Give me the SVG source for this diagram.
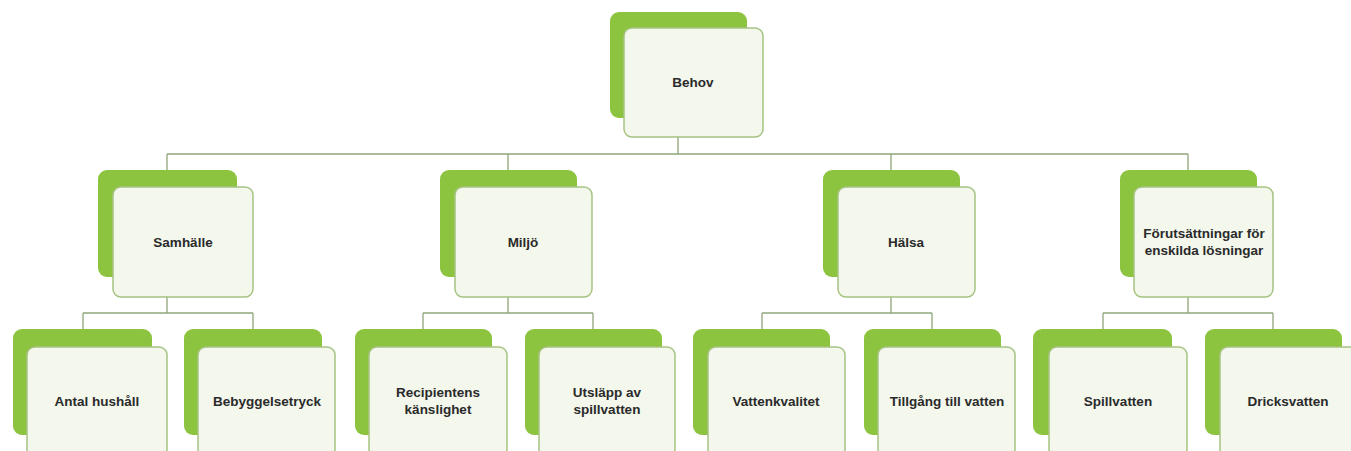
<svg xmlns="http://www.w3.org/2000/svg" width="1351" height="451" viewBox="0 0 1351 451">
<style>
.bk{fill:#8cc43f;}
.fr{fill:#f3f7ec;stroke:#a6c383;stroke-width:1.5;}
.t{font-family:"Liberation Sans",Arial,sans-serif;font-size:13.5px;font-weight:bold;fill:#2a2a2a;text-anchor:middle;dominant-baseline:central;}
.c{fill:none;stroke:#8fa67a;stroke-width:1.3;}
</style>
<rect width="1351" height="451" fill="#ffffff"/>
<g id="connectors">
<path class="c" d="M678 137V154M167 154H1188M167 154V170M508 154V170M891 154V170M1188 154V170"/>
<path class="c" d="M167 297V313M83 313H253M83 313V329M253 313V329"/>
<path class="c" d="M508 297V313M423 313H593M423 313V329M593 313V329"/>
<path class="c" d="M891 297V313M762 313H932M762 313V329M932 313V329"/>
<path class="c" d="M1188 297V313M1103 313H1273M1103 313V329M1273 313V329"/>
</g>
<g id="behov"><rect class="bk" x="610" y="12" width="137" height="106" rx="9"/><rect class="fr" x="624" y="28" width="139" height="109" rx="8"/><text class="t" x="693" y="82">Behov</text></g>
<g id="samhalle"><rect class="bk" x="98" y="170" width="139" height="107" rx="9"/><rect class="fr" x="113" y="187" width="140" height="110" rx="8"/><text class="t" x="183" y="242">Samhälle</text></g>
<g id="miljo"><rect class="bk" x="440" y="170" width="137" height="107" rx="9"/><rect class="fr" x="455" y="187" width="137" height="110" rx="8"/><text class="t" x="523" y="242">Miljö</text></g>
<g id="halsa"><rect class="bk" x="823" y="170" width="137" height="107" rx="9"/><rect class="fr" x="838" y="187" width="137" height="110" rx="8"/><text class="t" x="906" y="242">Hälsa</text></g>
<g id="forutsattningar"><rect class="bk" x="1120" y="170" width="137" height="107" rx="9"/><rect class="fr" x="1134" y="187" width="139" height="110" rx="8"/><text class="t" x="1204" y="233">Förutsättningar för</text><text class="t" x="1204" y="250">enskilda lösningar</text></g>
<g id="antal"><rect class="bk" x="13" y="329" width="139" height="106" rx="9"/><rect class="fr" x="27" y="347" width="140" height="110" rx="8"/><text class="t" x="97" y="401">Antal hushåll</text></g>
<g id="bebyggelse"><rect class="bk" x="184" y="329" width="138" height="106" rx="9"/><rect class="fr" x="198" y="347" width="137" height="110" rx="8"/><text class="t" x="267" y="401">Bebyggelsetryck</text></g>
<g id="recipientens"><rect class="bk" x="355" y="329" width="137" height="106" rx="9"/><rect class="fr" x="369" y="347" width="138" height="110" rx="8"/><text class="t" x="438" y="392">Recipientens</text><text class="t" x="438" y="409">känslighet</text></g>
<g id="utslapp"><rect class="bk" x="525" y="329" width="137" height="106" rx="9"/><rect class="fr" x="539" y="347" width="136" height="110" rx="8"/><text class="t" x="607" y="392">Utsläpp av</text><text class="t" x="607" y="409">spillvatten</text></g>
<g id="vattenkvalitet"><rect class="bk" x="693" y="329" width="137" height="106" rx="9"/><rect class="fr" x="708" y="347" width="137" height="110" rx="8"/><text class="t" x="776" y="401">Vattenkvalitet</text></g>
<g id="tillgang"><rect class="bk" x="864" y="329" width="137" height="106" rx="9"/><rect class="fr" x="878" y="347" width="137" height="110" rx="8"/><text class="t" x="947" y="401">Tillgång till vatten</text></g>
<g id="spillvatten"><rect class="bk" x="1033" y="329" width="139" height="106" rx="9"/><rect class="fr" x="1049" y="347" width="138" height="110" rx="8"/><text class="t" x="1118" y="401">Spillvatten</text></g>
<g id="dricksvatten"><rect class="bk" x="1205" y="329" width="137" height="106" rx="9"/><rect class="fr" x="1220" y="347" width="138" height="110" rx="8"/><text class="t" x="1288" y="401">Dricksvatten</text></g>
</svg>
